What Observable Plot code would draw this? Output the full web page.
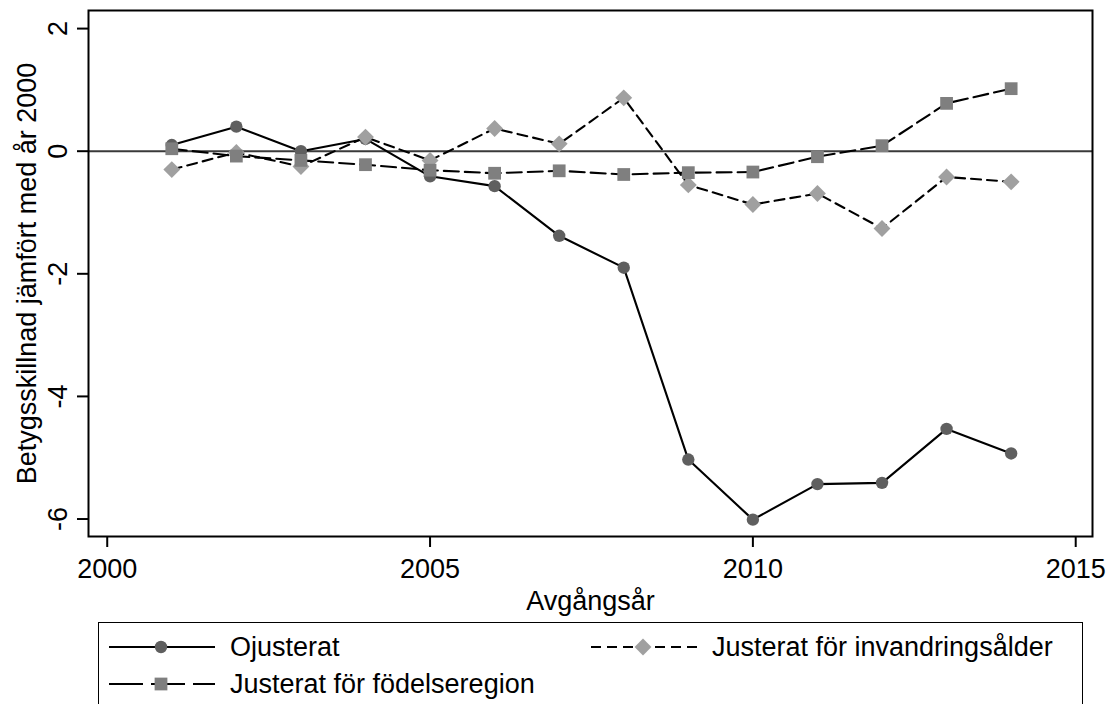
<!DOCTYPE html>
<html>
<head>
<meta charset="utf-8">
<script src="https://cdn.jsdelivr.net/npm/d3@7"></script>
<script src="https://cdn.jsdelivr.net/npm/@observablehq/plot@0.6"></script>
<style>
  html, body { margin: 0; padding: 0; background: white; overflow: hidden; }
  #wrap { position: relative; width: 1111px; height: 704px; font-family: "Liberation Sans", Arial, sans-serif; }
  #legend { position: absolute; left: 98px; top: 622px; width: 985px; height: 110px; border: 1.8px solid black; box-sizing: border-box; background: white; }
  .item { position: absolute; display: flex; align-items: center; font-size: 27px; color: black; white-space: nowrap; }
  .item svg { display: block; margin-right: 15px; }
</style>
</head>
<body>
<div id="wrap"><div id="chart"></div><div id="legend"></div></div>
<script>
// ---- data ----
const years = [2001, 2002, 2003, 2004, 2005, 2006, 2007, 2008, 2009, 2010, 2011, 2012, 2013, 2014];
const ojusterat = [0.10, 0.40, 0.00, 0.20, -0.41, -0.57, -1.38, -1.90, -5.03, -6.01, -5.43, -5.41, -4.53, -4.93];
const invandringsalder = [-0.30, -0.02, -0.25, 0.23, -0.15, 0.37, 0.12, 0.87, -0.55, -0.87, -0.69, -1.26, -0.42, -0.50];
const fodelseregion = [0.04, -0.08, -0.15, -0.22, -0.31, -0.36, -0.32, -0.38, -0.35, -0.34, -0.09, 0.09, 0.78, 1.02];
const seriesNames = ["Ojusterat", "Justerat för invandringsålder", "Justerat för födelseregion"];
const xTicks = [2000, 2005, 2010, 2015];
const yTicks = [-6, -4, -2, 0, 2];
const xLabel = "Avgångsår";
const yLabel = "Betygsskillnad jämfört med år 2000";

// ---- styles ----
const styles = [
  {symbol: "circle", fill: "#5f5f5f", r: 6.2, dash: null},
  {symbol: "diamond2", fill: "#a0a0a0", r: 7.6, dash: "10,6"},
  {symbol: "square", fill: "#7f7f7f", r: 7.2, dash: "15,6"}
];
const seriesValues = [ojusterat, invandringsalder, fodelseregion];
const tables = seriesValues.map(vals => years.map((y, i) => ({year: y, value: vals[i]})));

const marks = [
  Plot.ruleY([0], {stroke: "#3a3a3a", strokeWidth: 2}),
  Plot.axisX({ticks: xTicks, tickSize: 11, tickPadding: 11, tickFormat: d => String(d), strokeWidth: 2,
    label: xLabel, labelAnchor: "center", labelArrow: "none", labelOffset: 73.5}),
  Plot.axisY({ticks: yTicks, tickSize: 11, tickPadding: 11, tickRotate: -90, tickFormat: d => String(d), strokeWidth: 2,
    label: yLabel, labelAnchor: "center", labelArrow: "none", labelOffset: 72}),
  Plot.frame({stroke: "black", strokeWidth: 2})
];
tables.forEach((t, k) => {
  const s = styles[k];
  marks.push(Plot.line(t, {x: "year", y: "value", stroke: "black", strokeWidth: 2.1, strokeDasharray: s.dash}));
  marks.push(Plot.dot(t, {x: "year", y: "value", symbol: s.symbol, fill: s.fill, r: s.r, stroke: "none"}));
});

const chart = Plot.plot({
  width: 1111, height: 620,
  marginLeft: 88, marginRight: 19, marginTop: 10, marginBottom: 84,
  style: {fontFamily: "'Liberation Sans', Arial, sans-serif", fontSize: "27px", color: "black", background: "white", overflow: "visible"},
  x: {domain: [1999.71, 2015.26]},
  y: {domain: [-6.285, 2.295]},
  marks
});
document.getElementById("chart").appendChild(chart);

// ---- legend ----
const legend = document.getElementById("legend");
const positions = [{left: 10, top: 6}, {left: 492, top: 6}, {left: 10, top: 43}];
const legendDash = ["none", "10,6", "34,8"];
seriesNames.forEach((name, k) => {
  const s = styles[k];
  const item = document.createElement("div");
  item.className = "item";
  item.style.left = positions[k].left + "px";
  item.style.top = positions[k].top + "px";
  item.style.height = "36px";
  const svg = d3.create("svg").attr("width", 106).attr("height", 20);
  svg.append("line").attr("x1", 0).attr("x2", 106).attr("y1", 10).attr("y2", 10)
    .attr("stroke", "black").attr("stroke-width", 2).attr("stroke-dasharray", legendDash[k]);
  const symMap = {circle: d3.symbolCircle, square: d3.symbolSquare, diamond2: d3.symbolDiamond2};
  svg.append("path").attr("transform", "translate(52,10)")
    .attr("d", d3.symbol(symMap[s.symbol], s.r * s.r * Math.PI)())
    .attr("fill", s.fill);
  item.appendChild(svg.node());
  const span = document.createElement("span");
  span.textContent = name;
  item.appendChild(span);
  legend.appendChild(item);
});
</script>
</body>
</html>
